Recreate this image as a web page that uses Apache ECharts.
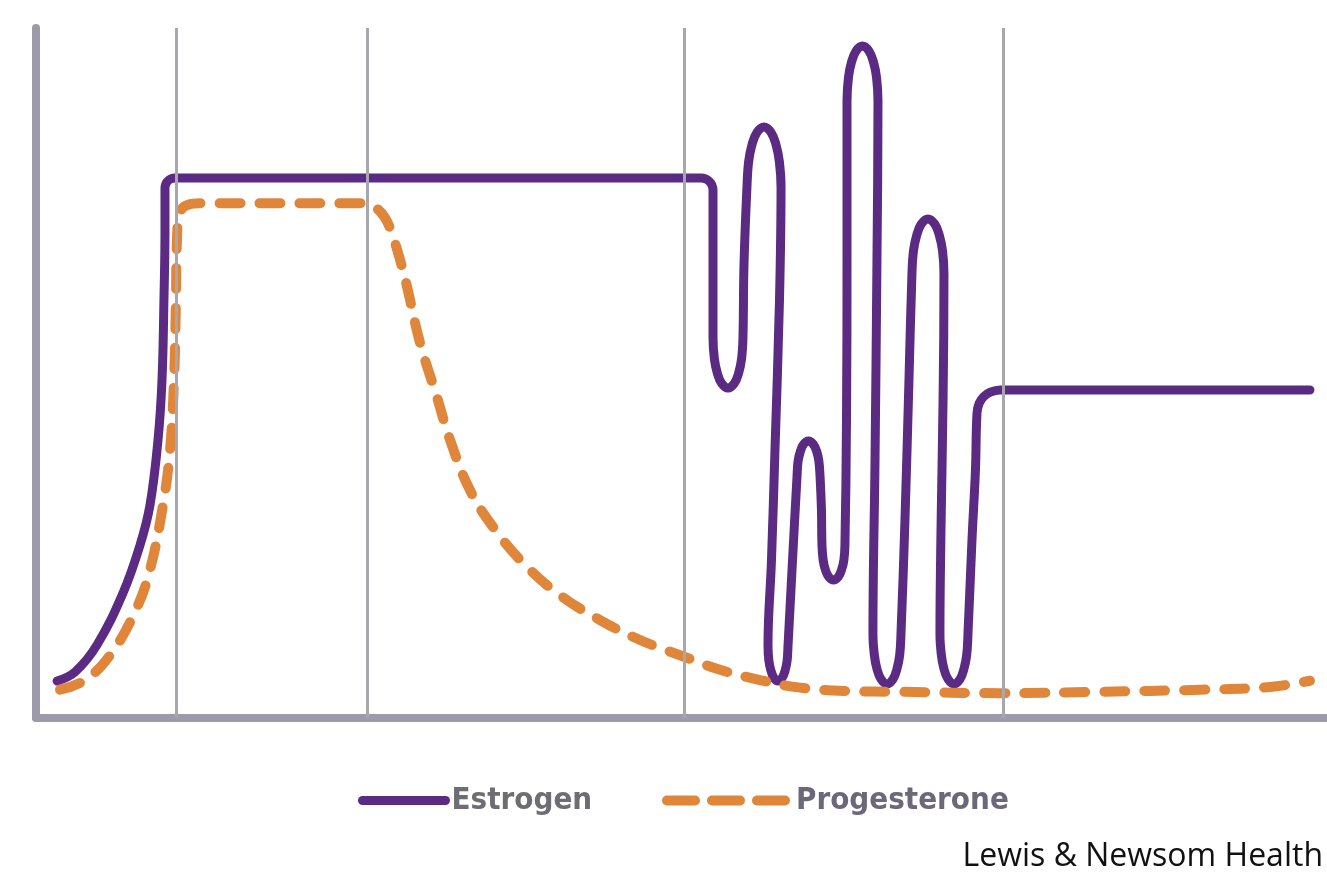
<!DOCTYPE html>
<html>
<head>
<meta charset="utf-8">
<script src="https://cdn.jsdelivr.net/npm/echarts@6/dist/echarts.min.js"></script>
<style>
html,body{margin:0;padding:0;background:#fff;}
#chart{width:1327px;height:877px;}
</style>
</head>
<body>
<div id="chart"></div>
<script>
// Time (arbitrary units 0-100) and hormone level (arbitrary units 0-100)
var seriesNames = ['Estrogen', 'Progesterone'];
var phaseBoundaries = [10.84, 25.64, 50.19, 74.90];
var creditText = 'Lewis & Newsom Health';

var estrogenX = [
  1.63, 3.02, 4.72, 6.74, 8.06, 8.83, 9.45, 9.76, 9.91, 9.99, 9.99, 10.06, 10.22, 10.44, 10.77,
  51.51, 51.91, 52.17, 52.35, 52.44, 52.44,
  52.44, 52.55, 52.78, 53.11, 53.60, 54.09, 54.42, 54.65, 54.76,
  54.84,
  55.07, 55.20, 55.46, 55.83, 56.39, 56.95, 57.32, 57.58, 57.71,
  57.59, 57.24, 56.97,
  56.70, 56.77, 56.93, 57.15, 57.47, 57.80, 58.02, 58.18, 58.25,
  58.56,
  58.95, 59.03, 59.21, 59.46, 59.84, 60.21, 60.47, 60.64, 60.73,
  60.84,
  60.88, 60.97, 61.14, 61.40, 61.77, 62.15, 62.40, 62.58, 62.66,
  62.78, 62.82,
  62.82, 62.93, 63.17, 63.51, 64.02, 64.53, 64.87, 65.11, 65.22,
  65.14, 64.99,
  64.83, 64.94, 65.15, 65.46, 65.92, 66.38, 66.68, 66.90, 67.00,
  67.31, 67.62,
  67.85, 67.97, 68.22, 68.57, 69.09, 69.62, 69.97, 70.22, 70.33,
  70.26, 70.10,
  70.02, 70.13, 70.34, 70.65, 71.11, 71.57, 71.87, 72.09, 72.19,
  72.50, 72.77,
  72.89, 73.06, 73.41, 73.92, 74.67, 98.68];
var estrogenY = [
  5.36, 6.67, 10.58, 18.12, 25.07, 30.87, 40.29, 48.99, 60.58, 70.72, 76.81, 77.42, 77.84, 78.13, 78.26,
  78.26, 78.10, 77.75, 77.26, 76.52, 63.48,
  55.07, 52.01, 49.95, 48.51, 47.83, 48.51, 49.95, 52.01, 55.07,
  65.65,
  76.96, 80.63, 83.10, 84.83, 85.65, 84.83, 83.10, 80.63, 76.96,
  60.58, 38.84, 22.90,
  10.43, 8.29, 6.85, 5.84, 5.36, 5.84, 6.85, 8.29, 10.43,
  21.45,
  35.07, 37.22, 38.66, 39.67, 40.14, 39.67, 38.66, 37.22, 35.07,
  30.14,
  25.07, 22.93, 21.49, 20.48, 20.00, 20.48, 21.49, 22.93, 25.07,
  43.19, 67.83,
  89.42, 92.79, 95.06, 96.64, 97.39, 96.64, 95.06, 92.79, 89.42,
  66.38, 37.39,
  12.17, 9.11, 7.05, 5.61, 4.93, 5.61, 7.05, 9.11, 12.17,
  28.70, 48.99,
  64.35, 67.72, 69.98, 71.57, 72.32, 71.57, 69.98, 67.72, 64.35,
  46.09, 27.25,
  12.17, 9.11, 7.05, 5.61, 4.93, 5.61, 7.05, 9.11, 12.17,
  25.80, 35.94,
  44.20, 45.61, 46.57, 47.22, 47.54, 47.54];

var progesteroneX = [1.86, 3.80, 5.73, 7.67, 8.83, 9.84, 10.38, 10.69, 10.84, 10.92, 11.15, 11.77, 12.70,
  25.10, 26.10, 27.03, 27.65, 28.20, 28.74, 29.74, 31.06, 32.07, 33.62, 35.55, 37.88, 40.59,
  43.69, 46.79, 49.88, 52.98, 56.08, 59.18, 63.05, 66.93, 74.67, 82.42, 90.16, 95.58, 98.68];
var progesteroneY = [4.1, 5.5, 9.1, 15.4, 21.5, 30.9, 38.8, 49.0, 60.6, 69.3, 73.3, 74.4, 74.6,
  74.6, 74.2, 72.5, 69.7, 66.4, 62.5, 54.4, 46.5, 40.3, 33.0, 27.3, 22.2, 17.8,
  14.2, 11.3, 9.1, 7.0, 5.5, 4.4, 3.9, 3.8, 3.6, 3.8, 4.1, 4.5, 5.4];

function pairs(xs, ys){ return xs.map(function(x,i){ return [x, ys[i]]; }); }

var purple = '#5b2b83';
var orange = '#e0863a';
var axisGray = '#9d9aa9';
var legendFont = {fontFamily: 'DejaVu Sans Condensed', fontWeight: 'bold', fontSize: 31, padding: [0,0,0,1]};

var chart = echarts.init(document.getElementById('chart'), null, {renderer:'canvas'});
chart.setOption({
  animation: false,
  backgroundColor: '#ffffff',
  title: {
    text: creditText,
    right: -1, top: 836,
    textStyle: {fontFamily: 'Open Sans', fontSize: 32, fontWeight: 'normal', color: '#111111'}
  },
  legend: [
    {
      data: [{name: seriesNames[0], textStyle: {color: '#6e6d73'}}],
      left: 353, top: 780, itemWidth: 83, itemHeight: 14, itemGap: 10,
      selectedMode: false,
      itemStyle: {opacity: 0},
      lineStyle: {width: 9, color: purple, type: 'solid', cap: 'round'},
      textStyle: legendFont
    },
    {
      data: [{name: seriesNames[1], textStyle: {color: '#6c6879'}}],
      left: 657, top: 780, itemWidth: 123, itemHeight: 14, itemGap: 10,
      selectedMode: false,
      itemStyle: {opacity: 0},
      lineStyle: {width: 10, color: orange, type: [28, 17], cap: 'round'},
      textStyle: legendFont
    }
  ],
  grid: {left: 36, right: 0, top: 28, bottom: 159, containLabel: false},
  xAxis: {
    type: 'value', min: 0, max: 100,
    axisLine: {show: true, onZero: false, lineStyle: {color: axisGray, width: 8}},
    axisTick: {show: false}, axisLabel: {show: false}, splitLine: {show: false}
  },
  yAxis: {
    type: 'value', min: 0, max: 100,
    axisLine: {show: true, onZero: false, lineStyle: {color: axisGray, width: 8}},
    axisTick: {show: false}, axisLabel: {show: false}, splitLine: {show: false}
  },
  series: [
    {
      type: 'line', name: 'phases', data: [], z: 1, silent: true,
      markLine: {
        silent: true, symbol: 'none', label: {show: false},
        lineStyle: {color: '#a8a7ae', width: 3, type: 'solid'},
        data: phaseBoundaries.map(function(v){ return {xAxis: v}; })
      }
    },
    {
      type: 'line', name: seriesNames[0], data: pairs(estrogenX, estrogenY),
      smooth: 0.4, symbol: 'none', showSymbol: false, z: 3,
      itemStyle: {color: purple},
      lineStyle: {color: purple, width: 9, cap: 'round', join: 'round'},
      emphasis: {disabled: true}
    },
    {
      type: 'line', name: seriesNames[1], data: pairs(progesteroneX, progesteroneY),
      smooth: 0.4, symbol: 'none', showSymbol: false, z: 4,
      itemStyle: {color: orange},
      lineStyle: {color: orange, width: 10, type: [21, 19], cap: 'round', join: 'round'},
      emphasis: {disabled: true}
    }
  ]
});
</script>
</body>
</html>
